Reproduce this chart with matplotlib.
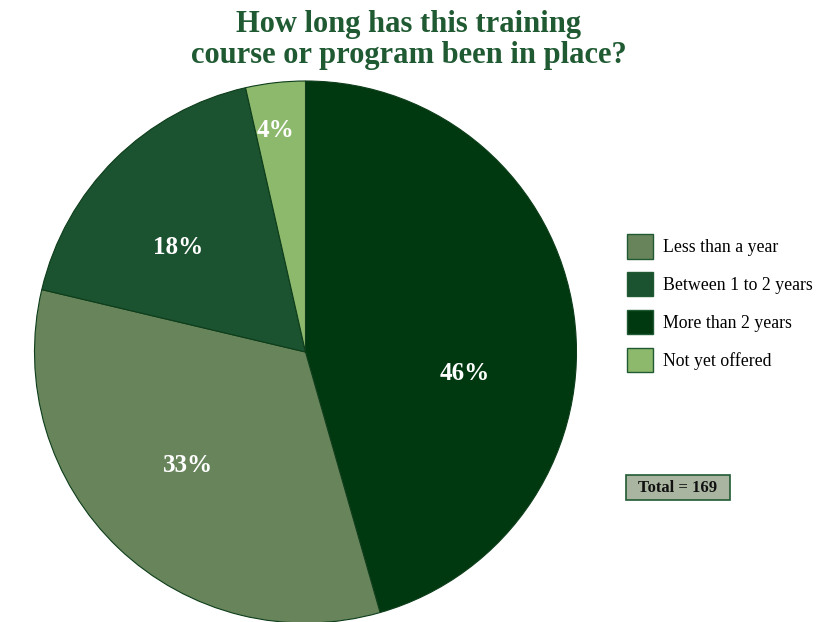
import matplotlib
matplotlib.use("Agg")
import matplotlib.pyplot as plt

categories = ["More than 2 years", "Less than a year", "Between 1 to 2 years", "Not yet offered"]
counts = [77, 56, 30, 6]
colors = ["#00380f", "#67845a", "#1b522f", "#8db96d"]
legend_order = ["Less than a year", "Between 1 to 2 years", "More than 2 years", "Not yet offered"]
title = "How long has this training\ncourse or program been in place?"
total_label = "Total = 169"

plt.rcParams['font.family'] = ['Liberation Serif', 'DejaVu Serif']

W, H = 817, 622
fig = plt.figure(figsize=(W / 100, H / 100), dpi=100)
cx, cy, r = 305.5, 352, 271
ax = fig.add_axes([(cx - r) / W, (H - cy - r) / H, 2 * r / W, 2 * r / H])

wedges, texts, autotexts = ax.pie(
    counts, colors=colors, startangle=90, counterclock=False,
    autopct=lambda p: f"{round(p)}%", pctdistance=0.6,
    wedgeprops=dict(edgecolor="#0d3d1a", linewidth=0.8),
    textprops=dict(color="white", fontsize=18, fontweight="bold"))
ax.set_xlim(-1, 1)
ax.set_ylim(-1, 1)
ax.set_aspect("equal")
for w in wedges:
    w.set_clip_on(False)

# label placement (fractions of radius)
label_pos = [(0.589, -0.08), (-0.434, -0.42), (-0.469, 0.387), (-0.109, 0.819)]
for t, p in zip(autotexts, label_pos):
    t.set_position(p)

fig.text(0.5, 1 - 10 / H, title, ha="center", va="top", fontsize=22,
         fontweight="bold", color="#1f5a32", linespacing=1.08)

handle_map = dict(zip(categories, wedges))
handles = [plt.Rectangle((0, 0), 1, 1, facecolor=handle_map[c].get_facecolor(),
                         edgecolor="#1f5a32", linewidth=1) for c in legend_order]
fig.legend(handles, legend_order, loc="upper left",
           bbox_to_anchor=(611 / W, 1 - 218 / H), frameon=False,
           fontsize=12.8, handlelength=1.45, handleheight=1.75,
           labelspacing=0.75, handletextpad=0.6, borderpad=0.4)

x0, y0, x1, y1 = 626, 475, 730, 500
fig.patches.append(plt.Rectangle((x0 / W, 1 - y1 / H), (x1 - x0) / W, (y1 - y0) / H,
                                 transform=fig.transFigure, facecolor="#a9b5a0",
                                 edgecolor="#1f5a32", linewidth=1.2))
fig.text((x0 + x1) / 2 / W, 1 - (y0 + y1) / 2 / H, total_label, ha="center", va="center",
         fontsize=12, fontweight="bold", color="#111111")

fig.savefig("out.png", dpi=100)
